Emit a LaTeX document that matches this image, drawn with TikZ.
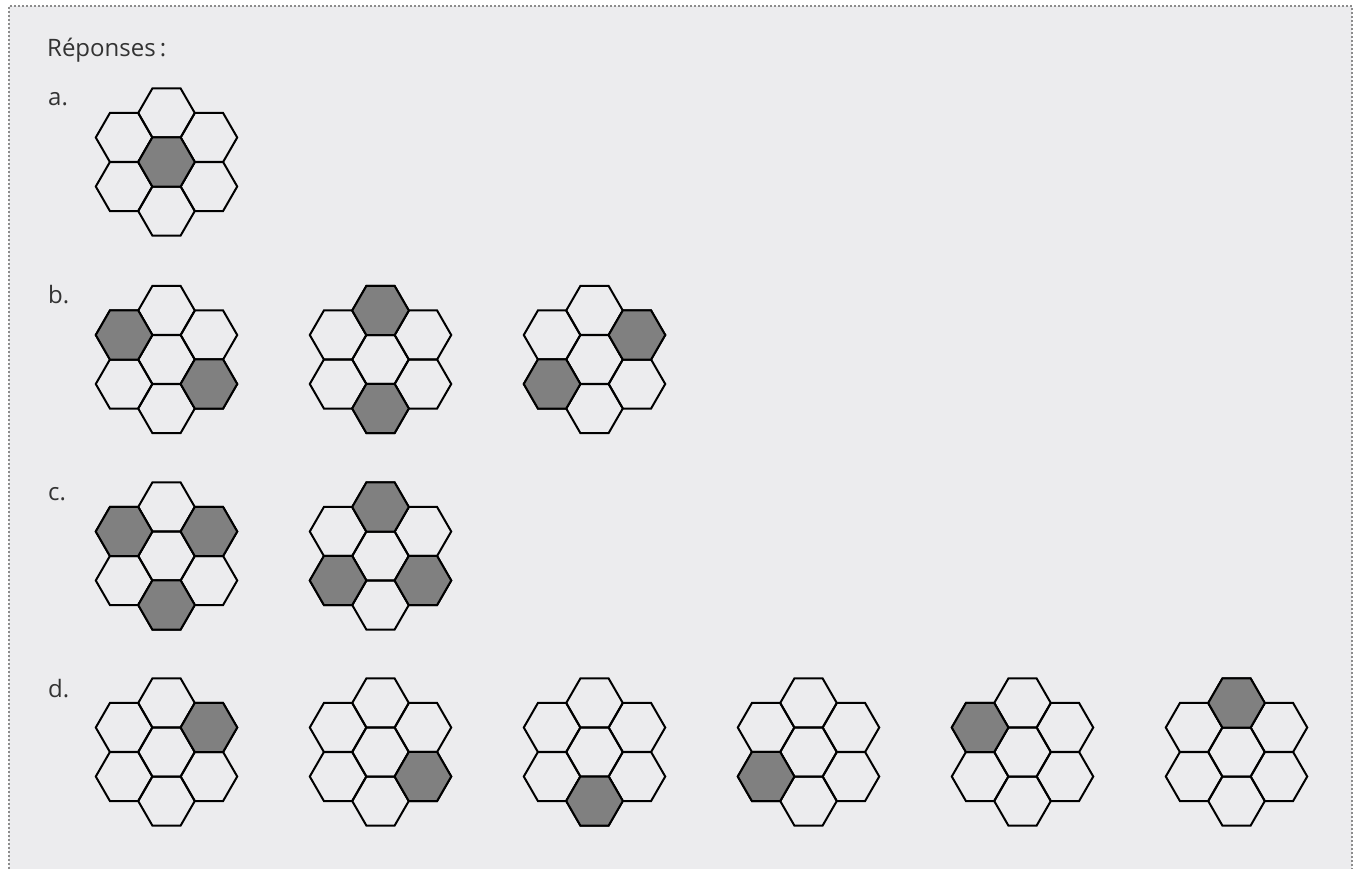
\documentclass[tikz,border=0pt]{standalone}
\usepackage{fontspec}
\setmainfont{Open Sans}
\usetikzlibrary{calc}
\definecolor{panelgrey}{HTML}{ECECEE}
\definecolor{dotgrey}{HTML}{8C8C8C}
\definecolor{cellgrey}{HTML}{808080}
\definecolor{textgrey}{HTML}{333333}
\newcommand{\hexr}{28.3}
\newcommand{\hexd}{49.0}
% one hexagon, flat top, centred at (#1)
\newcommand{\hexcell}[2]{%
  \draw[hexline,#2,shift={(#1)}] (0:\hexr) -- (60:\hexr) -- (120:\hexr) -- (180:\hexr)
    -- (240:\hexr) -- (300:\hexr) -- cycle;}
% seven cells round a centre; shaded cells as angle/step pairs
\newcommand{\flower}[3]{%
  \hexcell{#1,#2}{}
  \foreach \ang in {30,90,...,330}
    {\hexcell{$(#1,#2)+(\ang:\hexd)$}{}}
  \foreach \sa/\sr in {#3}
    {\hexcell{$(#1,#2)+(\sa:\hexd*\sr)$}{fill=cellgrey}}
}
\begin{document}
\begin{tikzpicture}[x=1pt,y=-1pt,
  hexline/.style={line width=2pt,line join=miter,black},
  rowlabel/.style={anchor=base west,inner sep=0pt,text=textgrey,font=\fontsize{24}{28}\selectfont}]
  \useasboundingbox (0,0) rectangle (1359,869);
  \fill[panelgrey] (9,6) rectangle (1352,869);
  \draw[dotgrey,line width=1.6pt,dash pattern=on 1.6pt off 2.4pt] (9,869) -- (9,6) -- (1352,6) -- (1352,869);

  \node[rowlabel] (title) at (47,57) {Réponses\,:};
  \node[rowlabel] (la) at (48,106) {a.};
  \node[rowlabel] (lb) at (48,303) {b.};
  \node[rowlabel] (lc) at (48,500) {c.};
  \node[rowlabel] (ld) at (48,697) {d.};

  % top=270, up-right=330, low-right=30, bottom=90, low-left=150, up-left=210
  \flower{166.5}{162}{0/0}

  \flower{166.5}{359.5}{210/1,30/1}
  \flower{380.5}{359.5}{270/1,90/1}
  \flower{594.5}{359.5}{330/1,150/1}

  \flower{166.5}{556}{210/1,330/1,90/1}
  \flower{380.5}{556}{270/1,150/1,30/1}

  \foreach \col/\dir in {0/330,1/30,2/90,3/150,4/210,5/270}
    {\flower{166.5+214*\col}{752}{\dir/1}}
\end{tikzpicture}
\end{document}
